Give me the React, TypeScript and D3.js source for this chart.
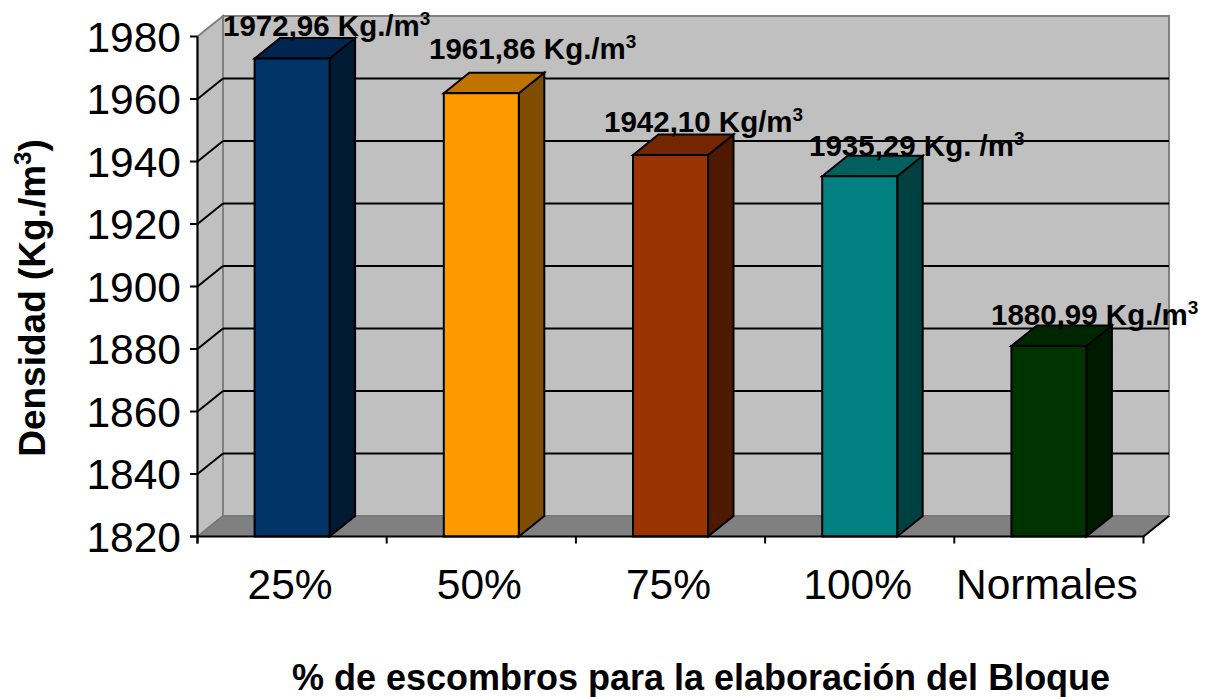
import React from "react";
import * as d3 from "d3";

const categories = ["25%", "50%", "75%", "100%", "Normales"];
const densities = [1972.96, 1961.86, 1942.1, 1935.29, 1880.99];
const valueLabels = ["1972,96 Kg./m", "1961,86 Kg./m", "1942,10 Kg/m", "1935,29 Kg. /m", "1880,99 Kg./m"];
const frontColors = ["#003366", "#FF9900", "#993300", "#008080", "#003300"];
const topColors = ["#002650", "#BF7300", "#732600", "#006060", "#002600"];
const sideColors = ["#001A33", "#804D00", "#4D1A00", "#004040", "#001A00"];
const yTicks = [1820, 1840, 1860, 1880, 1900, 1920, 1940, 1960, 1980];
const labelAnchors = [223, 429, 604, 809, 991];
const labelBaselines = [35.5, 59, 131.5, 155.5, 325];

const FONT = "'Liberation Sans', Arial, sans-serif";
const DX = 25.5;
const DY = 20.5;

export default function App() {
  const y = d3.scaleLinear().domain([1820, 1980]).range([536.5, 36.5]);
  const x = d3.scaleBand<string>().domain(categories).range([197.5, 1143.5]);
  const barWidth = 75;
  const wallLeft = 197.5 + DX;
  const wallRight = 1143.5 + DX;
  const bottom = y(1820);
  const top = y(1980);

  return (
    <svg
      width={1206}
      height={697}
      style={{ position: "absolute", left: 0, top: 0, background: "#fff" }}
    >
      {/* back wall, side wall and floor */}
      <rect x={wallLeft} y={top - DY} width={wallRight - wallLeft} height={bottom - top} fill="#C0C0C0" stroke="#808080" strokeWidth={2} />
      <polygon
        points={`197.5,${bottom} ${wallLeft},${bottom - DY} ${wallLeft},${top - DY} 197.5,${top}`}
        fill="#C0C0C0"
        stroke="#808080"
        strokeWidth={2}
      />
      <polygon
        points={`197.5,${bottom} ${wallLeft},${bottom - DY} ${wallRight},${bottom - DY} 1143.5,${bottom}`}
        fill="#808080"
        stroke="#707070"
        strokeWidth={1}
      />

      {/* gridlines across both walls */}
      {yTicks.slice(1, -1).map((t) => (
        <g key={t} stroke="#000" strokeWidth={2} fill="none">
          <line x1={wallLeft} x2={wallRight} y1={y(t) - DY} y2={y(t) - DY} />
          <line x1={197.5} x2={wallLeft} y1={y(t)} y2={y(t) - DY} />
        </g>
      ))}
      <line x1={1143.5} x2={wallRight} y1={bottom} y2={bottom - DY} stroke="#000" strokeWidth={2} />

      {/* 3D columns */}
      {categories.map((c, i) => {
        const x0 = (x(c) as number) + (x.bandwidth() - barWidth) / 2;
        const x1 = x0 + barWidth;
        const yv = y(densities[i]);
        return (
          <g key={c} stroke="#000" strokeWidth={2} strokeLinejoin="miter">
            <polygon points={`${x1},${yv} ${x1 + DX},${yv - DY} ${x1 + DX},${bottom - DY} ${x1},${bottom}`} fill={sideColors[i]} />
            <polygon points={`${x0},${yv} ${x0 + DX},${yv - DY} ${x1 + DX},${yv - DY} ${x1},${yv}`} fill={topColors[i]} />
            <rect x={x0} y={yv} width={barWidth} height={bottom - yv} fill={frontColors[i]} />
          </g>
        );
      })}

      {/* axes */}
      <g stroke="#000" strokeWidth={2}>
        <line x1={197.5} x2={197.5} y1={top} y2={bottom + 7} />
        <line x1={190} x2={1143.5} y1={bottom} y2={bottom} />
        {yTicks.map((t) => (
          <line key={t} x1={190} x2={197.5} y1={y(t)} y2={y(t)} />
        ))}
        {d3.range(categories.length + 1).map((i) => (
          <line key={i} x1={197.5 + i * x.step()} x2={197.5 + i * x.step()} y1={bottom} y2={bottom + 7} />
        ))}
      </g>

      {/* tick labels */}
      <g fontFamily={FONT} fontSize={42.5} fill="#000">
        {yTicks.map((t) => (
          <text key={t} x={181} y={y(t) + 15} textAnchor="end">{t}</text>
        ))}
        {categories.map((c) => (
          <text key={c} x={(x(c) as number) + x.bandwidth() / 2 - 2} y={599} textAnchor="middle">{c}</text>
        ))}
      </g>

      {/* value labels above the columns */}
      <g fontFamily={FONT} fontSize={29.5} fontWeight={700} fill="#000">
        {valueLabels.map((l, i) => (
          <text key={l} x={labelAnchors[i]} y={labelBaselines[i]}>
            {l}
            <tspan fontSize={19} dy={-11}>3</tspan>
          </text>
        ))}
      </g>

      {/* axis titles */}
      <text x={701} y={690} textAnchor="middle" fontFamily={FONT} fontSize={36} fontWeight={700}>
        % de escombros para la elaboración del Bloque
      </text>
      <text
        transform="translate(45,298) rotate(-90)"
        textAnchor="middle"
        fontFamily={FONT}
        fontSize={37}
        fontWeight={700}
      >
        Densidad (Kg./m<tspan fontSize={24} dy={-14}>3</tspan><tspan dy={14}>)</tspan>
      </text>
    </svg>
  );
}
